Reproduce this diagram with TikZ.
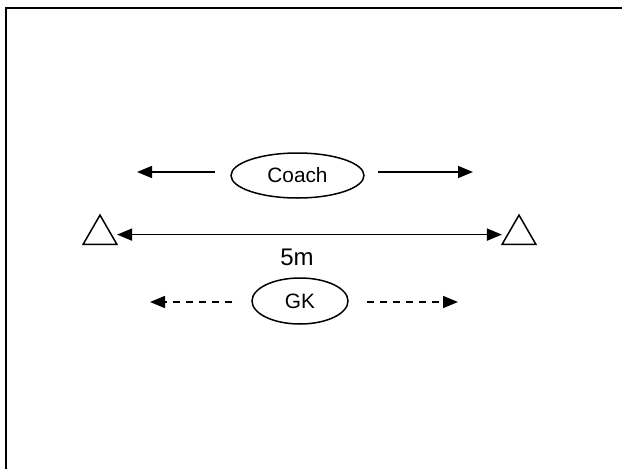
\documentclass[tikz,border=0pt]{standalone}
\usepackage{fontspec}
\setmainfont{Liberation Sans}
\usetikzlibrary{arrows.meta,shapes.geometric}
\tikzset{
	player/.style = 
    {
			draw, ellipse, inner sep=0pt, line width=1.5pt,
			font=\fontsize{20.8}{25}\selectfont
    },
	cone/.style = 
    {
			draw, regular polygon, regular polygon sides=3,
			minimum size=39pt, inner sep=0pt, outer sep=5pt, line width=1.5pt
    }
}

\begin{document}
\begin{tikzpicture}[x=1pt, y=-1pt, line width=1.6pt, >={Triangle[length=15pt,width=12pt]}]
    \useasboundingbox (0,0) rectangle (622,469);
    \draw[line width=2.4pt] (6,480) -- (6,8) -- (640,8);
    % Nodes
    \node (coach) [player, minimum width=133pt, minimum height=45pt] at (297.5,175.5) {Coach};
    \node (gk) [player, minimum width=96pt, minimum height=46pt] at (300,301) {GK};
    \node (leftcone) [cone] at (100,234.6) {};
    \node (rightcone) [cone] at (519,234.6) {};
    \node (dist) [font=\fontsize{24}{29}\selectfont] at (297,257) {5m};
    \coordinate (coachleft) at (137,172);
    \coordinate (coachright) at (473,172);
    \coordinate (gkleft) at (150,302);
    \coordinate (gkright) at (458,302);

    % Arrows
    \draw [<->] (leftcone.east) to (rightcone.west);
    \draw [->, shorten <=15pt] (coach.west |- coachleft) to (coachleft);
    \draw [->, shorten <=13pt] (coach.east |- coachright) to (coachright);
    \draw [->, dash pattern=on 7pt off 6pt, shorten <=19pt] (gk.west |- gkleft) to (gkleft);
    \draw [->, dash pattern=on 7pt off 6pt, shorten <=18pt] (gk.east |- gkright) to (gkright);

\end{tikzpicture}
\end{document}
